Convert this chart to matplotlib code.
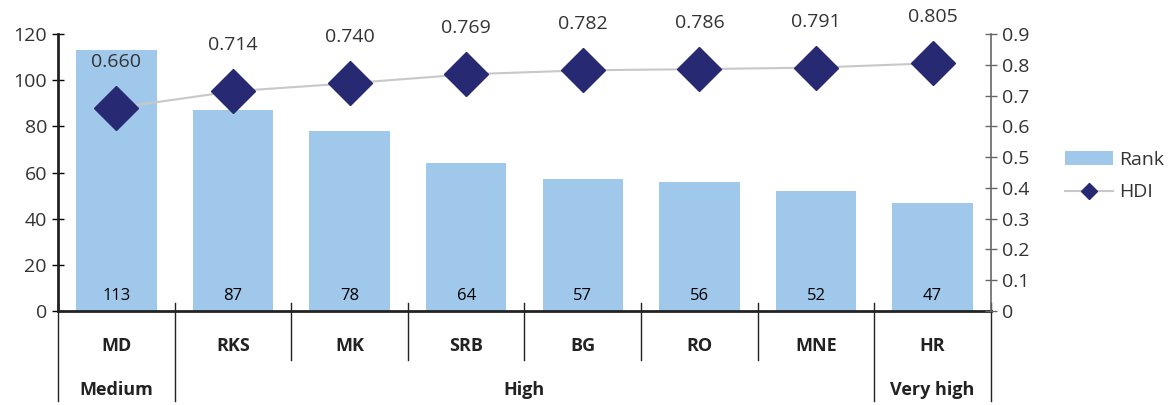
import matplotlib
matplotlib.use("Agg")
from matplotlib import pyplot as plt
from matplotlib.lines import Line2D
from matplotlib.patches import Patch
import numpy as np

countries = ["MD", "RKS", "MK", "SRB", "BG", "RO", "MNE", "HR"]
rank = [113, 87, 78, 64, 57, 56, 52, 47]
hdi = [0.660, 0.714, 0.740, 0.769, 0.782, 0.786, 0.791, 0.805]
groups = ["Medium", "High", "Very high"]
group_sizes = [1, 6, 1]

BAR_COLOR = "#9fc8ea"
MARKER_COLOR = "#272a72"
LINE_COLOR = "#c8c8c8"
TEXT_COLOR = "#333333"

plt.rcParams["font.family"] = ["Open Sans", "DejaVu Sans"]

fig = plt.figure(figsize=(11.74, 4.05), dpi=100)
ax = fig.add_axes([0.0494, 0.232, 0.7947, 0.684])
ax2 = ax.twinx()

x = np.arange(len(countries))
bars = ax.bar(x, rank, width=0.69, color=BAR_COLOR, zorder=2)
for xi, v in zip(x, rank):
    ax.text(xi, 6.5, str(v), ha="center", va="center", fontsize=12, color="black")

ax.set_xlim(-0.5, len(countries) - 0.5)
ax.set_ylim(0, 120)
ax.set_yticks(range(0, 121, 20))
ax.set_xticks([])

ax2.plot(x, hdi, color=LINE_COLOR, lw=1.5, marker="D", markersize=22,
         markerfacecolor=MARKER_COLOR, markeredgecolor=MARKER_COLOR, zorder=3)
for xi, v in zip(x, hdi):
    ax2.annotate(f"{v:.3f}", (xi, v), xytext=(0, 46), textcoords="offset pixels",
                 ha="center", va="center", fontsize=14, color=TEXT_COLOR)
ax2.set_ylim(0, 0.9)
ax2.set_yticks(np.arange(0, 0.91, 0.1))
ax2.set_yticklabels(["0"] + [f"{t:.1f}" for t in np.arange(0.1, 0.91, 0.1)])

for a in (ax, ax2):
    a.spines["top"].set_visible(False)
    a.tick_params(labelsize=14, labelcolor=TEXT_COLOR, length=8, width=1)
ax2.spines["left"].set_visible(False)
ax2.spines["bottom"].set_visible(False)
ax.spines["right"].set_visible(False)
ax.spines["left"].set_linewidth(2)
ax.spines["left"].set_color("#222222")
ax.spines["bottom"].set_linewidth(2)
ax.spines["bottom"].set_color("#222222")
ax2.spines["right"].set_color("#666666")
ax2.spines["right"].set_linewidth(1.2)
ax.tick_params(axis="y", direction="inout", pad=4)
ax2.tick_params(axis="y", direction="inout", pad=4, color="#666666")

# two-level category axis below the plot
trans = ax.get_xaxis_transform()
bounds = np.cumsum([0] + group_sizes) - 0.5
for i in range(len(countries) + 1):
    xb = i - 0.5
    bottom = -0.325 if xb in bounds else -0.175
    ax.plot([xb, xb], [0.03, bottom], transform=trans, color="#222222",
            lw=1, clip_on=False, zorder=1)
for xi, c in zip(x, countries):
    ax.text(xi, -0.125, c, transform=trans, ha="center", va="center",
            fontsize=13, fontweight="bold", color="#222222")
for g, lo, hi in zip(groups, bounds[:-1], bounds[1:]):
    ax.text((lo + hi) / 2, -0.285, g, transform=trans, ha="center", va="center",
            fontsize=13, fontweight="bold", color="#222222")

handles = [
    Patch(facecolor=BAR_COLOR, label="Rank"),
    Line2D([], [], color=LINE_COLOR, lw=1.5, marker="D", markersize=8,
           markerfacecolor=MARKER_COLOR, markeredgecolor=MARKER_COLOR, label="HDI"),
]
fig.legend(handles=handles, loc="center left", bbox_to_anchor=(0.892, 0.565),
           frameon=False, fontsize=14, labelcolor=TEXT_COLOR,
           handlelength=2.5, handleheight=0.75, labelspacing=0.75, handletextpad=0.3)

fig.savefig("out.png", dpi=100)
